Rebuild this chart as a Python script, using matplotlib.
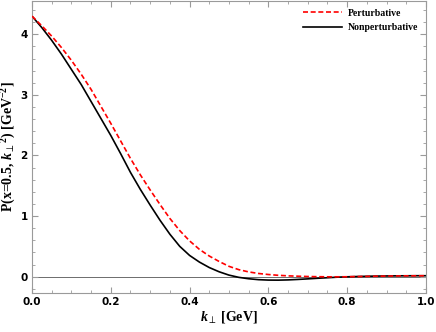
"""TMD-like distribution P(x=0.5, k_perp^2): perturbative vs nonperturbative."""

import matplotlib
matplotlib.use("Agg")
import matplotlib.pyplot as plt
from matplotlib.ticker import MultipleLocator, FormatStrFormatter

# values
k_perp = [0.000, 0.025, 0.050, 0.075, 0.100, 0.125, 0.150, 0.175, 0.200, 0.225,
          0.250, 0.275, 0.300, 0.325, 0.350, 0.375, 0.400, 0.425, 0.450, 0.475,
          0.500, 0.525, 0.550, 0.575, 0.600, 0.625, 0.650, 0.675, 0.700, 0.725,
          0.750, 0.775, 0.800, 0.825, 0.850, 0.875, 0.900, 0.925, 0.950, 0.975, 1.000]

perturbative = [4.30, 4.14, 3.97, 3.78, 3.57, 3.34, 3.09, 2.81, 2.53, 2.24,
                1.95, 1.68, 1.43, 1.19, 0.96, 0.76, 0.59, 0.45, 0.34, 0.25,
                0.17, 0.115, 0.078, 0.052, 0.035, 0.022, 0.013, 0.007, 0.002, -0.001,
                -0.003, -0.003, -0.002, 0.001, 0.004, 0.007, 0.009, 0.011, 0.013, 0.014, 0.015]

nonperturbative = [4.30, 4.11, 3.90, 3.67, 3.42, 3.17, 2.89, 2.61, 2.33, 2.03,
                   1.72, 1.44, 1.18, 0.93, 0.70, 0.50, 0.35, 0.24, 0.15, 0.08,
                   0.025, -0.012, -0.035, -0.050, -0.057, -0.058, -0.054, -0.046, -0.037, -0.027,
                   -0.018, -0.009, -0.003, 0.002, 0.006, 0.009, 0.011, 0.013, 0.014, 0.015, 0.015]

plt.rcParams["mathtext.fontset"] = "custom"
plt.rcParams["mathtext.rm"] = "Liberation Serif:bold"
plt.rcParams["mathtext.it"] = "Liberation Serif:italic:bold"
plt.rcParams["mathtext.bf"] = "Liberation Serif:bold"

frame_col = "#9a9a9a"

fig = plt.figure(figsize=(4.36, 3.32), dpi=100)
ax = fig.add_axes([0.0734, 0.1175, 0.9036, 0.8795])

ax.axhline(0, color="#555555", lw=0.6, zorder=1)
ax.plot(k_perp, perturbative, color="red", ls=(0, (3, 1.6)), lw=1.2, label="Perturbative", zorder=3)
ax.plot(k_perp, nonperturbative, color="black", lw=1.2, label="Nonperturbative", zorder=2)

ax.set_xlim(0, 1)
ax.set_ylim(-0.27, 4.55)
ax.xaxis.set_major_locator(MultipleLocator(0.2))
ax.xaxis.set_minor_locator(MultipleLocator(0.05))
ax.yaxis.set_major_locator(MultipleLocator(1))
ax.yaxis.set_minor_locator(MultipleLocator(0.2))
ax.xaxis.set_major_formatter(FormatStrFormatter("%.1f"))

for s in ax.spines.values():
    s.set_color(frame_col)
    s.set_linewidth(0.8)
ax.tick_params(which="both", direction="in", top=True, right=True, color=frame_col)
ax.tick_params(which="major", length=4, width=0.8, labelsize=7.5, pad=3)
ax.tick_params(which="minor", length=2.2, width=0.6)
for lab in ax.get_xticklabels() + ax.get_yticklabels():
    lab.set_fontweight("bold")

ax.set_xlabel(r"$k_{\perp}$ [GeV]", family="Liberation Serif", fontweight="bold", fontsize=10, labelpad=1)
ax.set_ylabel(r"P(x=0.5, $k_{\perp}{}^{2}$) [GeV$^{-2}$]", family="Liberation Serif",
              fontweight="bold", fontsize=10)
ax.yaxis.set_label_coords(-0.036, 0.5)

ax.legend(loc="upper right", frameon=False,
          prop={"family": "Liberation Serif", "weight": "bold", "size": 7},
          handlelength=4.0, handletextpad=0.6, labelspacing=0.55, borderaxespad=0.4)

fig.savefig("out.png", dpi=100)
plt.close(fig)
